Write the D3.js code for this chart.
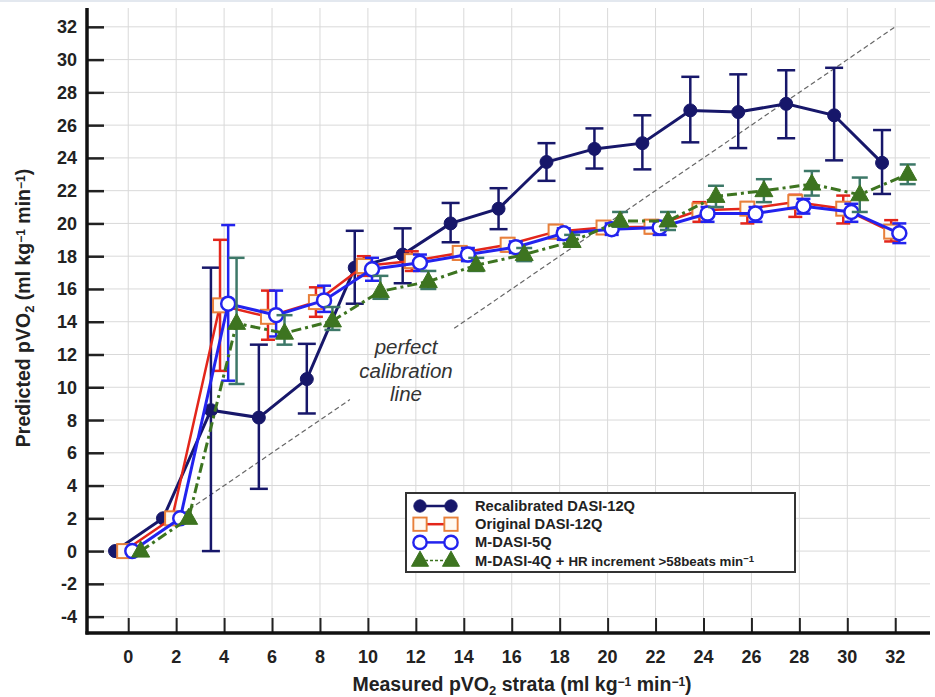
<!DOCTYPE html>
<html>
<head>
<meta charset="utf-8">
<script src="https://cdn.jsdelivr.net/npm/d3@7"></script>
<style>
  body { margin: 0; background: #fff; }
  text { font-family: "Liberation Sans", Arial, sans-serif; }
  .tickLabel { font-size: 18px; font-weight: bold; fill: #222; }
</style>
</head>
<body>
<svg id="chart" width="935" height="697"></svg>
<script>
// Strata (measured pVO2) and tick labels
var strata = [0, 2, 4, 6, 8, 10, 12, 14, 16, 18, 20, 22, 24, 26, 28, 30, 32];
var xTicks = [0, 2, 4, 6, 8, 10, 12, 14, 16, 18, 20, 22, 24, 26, 28, 30, 32];
var yTicks = [-4, -2, 0, 2, 4, 6, 8, 10, 12, 14, 16, 18, 20, 22, 24, 26, 28, 30, 32];

// Recalibrated DASI-12Q
var recalMean = [0, 2.0, 8.6, 8.15, 10.5, 17.3, 18.1, 20.0, 20.9, 23.75, 24.55, 24.9, 26.9, 26.8, 27.3, 26.6, 23.7];
var recalHi   = [0, 2.1, 17.3, 12.6, 12.65, 19.55, 19.7, 21.25, 22.15, 24.9, 25.8, 26.6, 28.95, 29.1, 29.35, 29.5, 25.7];
var recalLo   = [0, 1.9, 0, 3.8, 8.4, 15.1, 16.35, 18.85, 19.65, 22.6, 23.35, 23.3, 24.95, 24.6, 25.2, 23.85, 21.8];

// Original DASI-12Q
var origMean = [0, 2.0, 15.0, 14.3, 15.2, 17.4, 17.7, 18.2, 18.7, 19.5, 19.75, 19.8, 20.8, 20.9, 21.3, 20.9, 19.5];
var origHi   = [0, 2.1, 19.0, 15.9, 16.1, 18.0, 18.3, 18.6, 19.1, 19.9, 20.1, 20.2, 21.3, 21.3, 21.75, 21.7, 20.2];
var origLo   = [0, 1.9, 11.0, 12.9, 14.3, 16.8, 17.1, 17.8, 18.3, 19.1, 19.4, 19.4, 20.1, 20.0, 20.4, 20.0, 18.9];

// M-DASI-5Q
var mdasi5Mean = [0, 2.0, 15.1, 14.4, 15.3, 17.2, 17.6, 18.1, 18.55, 19.4, 19.65, 19.75, 20.6, 20.6, 21.05, 20.7, 19.4];
var mdasi5Hi   = [0, 2.1, 19.9, 15.9, 16.2, 17.9, 18.1, 18.5, 18.9, 19.7, 20.0, 20.1, 21.0, 21.0, 21.5, 21.2, 20.0];
var mdasi5Lo   = [0, 1.9, 10.4, 13.1, 14.6, 16.5, 17.1, 17.7, 18.2, 19.0, 19.3, 19.3, 20.1, 20.1, 20.6, 20.1, 18.8];

// M-DASI-4Q + HR increment
var mdasi4Mean = [0, 2.0, 13.9, 13.3, 14.05, 15.85, 16.45, 17.45, 18.1, 18.9, 20.15, 20.15, 21.65, 22.0, 22.4, 21.75, 23.0];
var mdasi4Hi   = [0, 2.1, 17.9, 14.4, 14.9, 16.8, 17.1, 17.9, 18.5, 19.3, 20.7, 20.7, 22.3, 22.7, 23.2, 22.8, 23.6];
var mdasi4Lo   = [0, 1.9, 10.2, 12.6, 13.5, 15.4, 16.0, 17.1, 17.7, 18.6, 19.8, 19.6, 21.0, 21.3, 21.7, 20.7, 22.4];

// Perfect calibration line pieces (gap for the label)
var calibSegments = [[2, 9.25], [13.6, 32]];

// Colors
var navy = "#17176a";
var red = "#e3261b";
var orange = "#e8803a";
var blue = "#2323ee";
var green = "#3d7420";
var teal = "#3d7868";
var gridColor = "#d9d9d9";

var svg = d3.select("#chart");

// Scales
var xScale = d3.scaleLinear().domain([-1.72, 33.45]).range([87, 930]);
var yScale = d3.scaleLinear().domain([-5, 33.15]).range([633, 8]);

// faint top border
svg.append("line")
   .attr("x1", 0).attr("x2", 935).attr("y1", 1).attr("y2", 1)
   .style("stroke", "#e3e8ef").style("stroke-width", 2);

// Grid
svg.selectAll(".vgrid")
   .data(xTicks)
   .enter()
   .append("line")
   .attr("class", "vgrid")
   .attr("x1", function(d) { return xScale(d); })
   .attr("x2", function(d) { return xScale(d); })
   .attr("y1", yScale(33.15))
   .attr("y2", yScale(-5))
   .style("stroke", gridColor).style("stroke-width", 1);
svg.selectAll(".hgrid")
   .data(yTicks)
   .enter()
   .append("line")
   .attr("class", "hgrid")
   .attr("x1", xScale(-1.72))
   .attr("x2", xScale(33.45))
   .attr("y1", function(d) { return yScale(d); })
   .attr("y2", function(d) { return yScale(d); })
   .style("stroke", gridColor).style("stroke-width", 1);

// Axes (ticks drawn inward)
var yAxis = d3.axisRight(yScale).tickValues(yTicks).tickSize(17).tickFormat("");
var yG = svg.append("g").attr("transform", "translate(" + xScale(-1.72) + ",0)").call(yAxis);
yG.select(".domain").remove();
yG.selectAll(".tick line").style("stroke", "#222").style("stroke-width", 2.5);

var xAxis = d3.axisTop(xScale).tickValues(xTicks).tickSize(15).tickFormat("");
var xG = svg.append("g").attr("transform", "translate(0," + yScale(-5) + ")").call(xAxis);
xG.select(".domain").remove();
xG.selectAll(".tick line").style("stroke", "#222").style("stroke-width", 2);

// axis lines
svg.append("line")
   .attr("x1", xScale(-1.72)).attr("x2", xScale(-1.72))
   .attr("y1", yScale(33.15)).attr("y2", yScale(-5) + 1.5)
   .style("stroke", "#111").style("stroke-width", 3.5);
svg.append("line")
   .attr("x1", xScale(-1.72) - 1.5).attr("x2", xScale(33.45))
   .attr("y1", yScale(-5)).attr("y2", yScale(-5))
   .style("stroke", "#111").style("stroke-width", 3.5);

// Tick labels
svg.selectAll(".ylab")
   .data(yTicks)
   .enter()
   .append("text")
   .attr("class", "tickLabel")
   .attr("x", xScale(-1.72) - 10)
   .attr("y", function(d) { return yScale(d) + 6.5; })
   .attr("text-anchor", "end")
   .text(function(d) { return d; });
svg.selectAll(".xlab")
   .data(xTicks)
   .enter()
   .append("text")
   .attr("class", "tickLabel")
   .attr("x", function(d) { return xScale(d); })
   .attr("y", yScale(-5) + 30)
   .attr("text-anchor", "middle")
   .text(function(d) { return d; });

// Axis titles
var xTitle = svg.append("text")
   .attr("x", 522).attr("y", 691)
   .attr("text-anchor", "middle")
   .style("font-size", "19.5px").style("font-weight", "bold").style("fill", "#222");
xTitle.append("tspan").text("Measured pVO");
xTitle.append("tspan").attr("baseline-shift", "-30%").style("font-size", "13px").text("2");
xTitle.append("tspan").text(" strata (ml kg");
xTitle.append("tspan").attr("baseline-shift", "40%").style("font-size", "12px").text("\u22121");
xTitle.append("tspan").text(" min");
xTitle.append("tspan").attr("baseline-shift", "40%").style("font-size", "12px").text("\u22121");
xTitle.append("tspan").text(")");

var yTitle = svg.append("text")
   .attr("transform", "translate(30,308) rotate(-90)")
   .attr("text-anchor", "middle")
   .style("font-size", "19.5px").style("font-weight", "bold").style("fill", "#222");
yTitle.append("tspan").text("Predicted pVO");
yTitle.append("tspan").attr("baseline-shift", "-30%").style("font-size", "13px").text("2");
yTitle.append("tspan").text(" (ml kg");
yTitle.append("tspan").attr("baseline-shift", "40%").style("font-size", "12px").text("\u22121");
yTitle.append("tspan").text(" min");
yTitle.append("tspan").attr("baseline-shift", "40%").style("font-size", "12px").text("\u22121");
yTitle.append("tspan").text(")");

// Perfect calibration line
svg.selectAll(".calib")
   .data(calibSegments)
   .enter()
   .append("line")
   .attr("class", "calib")
   .attr("x1", function(d) { return xScale(d[0]); })
   .attr("y1", function(d) { return yScale(d[0]); })
   .attr("x2", function(d) { return xScale(d[1]); })
   .attr("y2", function(d) { return yScale(d[1]); })
   .style("stroke", "#666").style("stroke-width", 1.2)
   .style("stroke-dasharray", "5,3");
var calibText = ["perfect", "calibration", "line"];
svg.selectAll(".calibText")
   .data(calibText)
   .enter()
   .append("text")
   .attr("x", 406)
   .attr("y", function(d, i) { return 354 + i * 23.5; })
   .attr("text-anchor", "middle")
   .style("font-size", "20.5px").style("font-style", "italic").style("fill", "#333")
   .text(function(d) { return d; });

// Series
var series = [
  { name: "recal", mean: recalMean, hi: recalHi, lo: recalLo, off: -0.55, line: navy, err: navy, width: 3, dash: null, cap: 18 },
  { name: "orig", mean: origMean, hi: origHi, lo: origLo, off: -0.17, line: red, err: red, width: 2.5, dash: null, cap: 14 },
  { name: "mdasi5", mean: mdasi5Mean, hi: mdasi5Hi, lo: mdasi5Lo, off: 0.17, line: blue, err: blue, width: 3, dash: null, cap: 14 },
  { name: "mdasi4", mean: mdasi4Mean, hi: mdasi4Hi, lo: mdasi4Lo, off: 0.52, line: green, err: teal, width: 3, dash: "10,4,3,4", cap: 16 }
];

var lineGen = d3.line()
  .x(function(d) { return xScale(d.x); })
  .y(function(d) { return yScale(d.y); });

series.forEach(function(s) {
  var pts = strata.map(function(x, i) {
    return { x: x + s.off, y: s.mean[i], hi: s.hi[i], lo: s.lo[i] };
  });
  var g = svg.append("g").attr("class", "series-" + s.name);

  // error bars
  var eb = g.selectAll(".err").data(pts.filter(function(d) { return d.hi - d.lo > 0.3; }))
            .enter().append("g").style("stroke", s.err).style("stroke-width", 2.5);
  eb.append("line")
    .attr("x1", function(d) { return xScale(d.x); })
    .attr("x2", function(d) { return xScale(d.x); })
    .attr("y1", function(d) { return yScale(d.hi); })
    .attr("y2", function(d) { return yScale(d.lo); });
  eb.append("line")
    .attr("x1", function(d) { return xScale(d.x) - s.cap / 2; })
    .attr("x2", function(d) { return xScale(d.x) + s.cap / 2; })
    .attr("y1", function(d) { return yScale(d.hi); })
    .attr("y2", function(d) { return yScale(d.hi); });
  eb.append("line")
    .attr("x1", function(d) { return xScale(d.x) - s.cap / 2; })
    .attr("x2", function(d) { return xScale(d.x) + s.cap / 2; })
    .attr("y1", function(d) { return yScale(d.lo); })
    .attr("y2", function(d) { return yScale(d.lo); });

  g.append("path")
   .datum(pts)
   .attr("d", lineGen)
   .style("fill", "none")
   .style("stroke", s.line)
   .style("stroke-width", s.width)
   .style("stroke-dasharray", s.dash);

  s.pts = pts;
  s.g = g;
});

// Markers
function drawMarker(sel, kind) {
  if (kind == "recal") {
    sel.append("circle").attr("r", 6.5).style("fill", navy).style("stroke", navy).style("stroke-width", 1);
  } else if (kind == "orig") {
    sel.append("rect").attr("x", -7).attr("y", -7).attr("width", 14).attr("height", 14)
       .style("fill", "#fffaf2").style("stroke", orange).style("stroke-width", 2);
  } else if (kind == "mdasi5") {
    sel.append("circle").attr("r", 7).style("fill", "#fff").style("stroke", blue).style("stroke-width", 2.5);
  } else {
    sel.append("path").attr("d", "M0,-10L9,6L-9,6Z").style("fill", green).style("stroke", green).style("stroke-width", 1);
  }
}
series.forEach(function(s) {
  var m = s.g.selectAll(".marker").data(s.pts).enter().append("g")
             .attr("transform", function(d) { return "translate(" + xScale(d.x) + "," + yScale(d.y) + ")"; });
  drawMarker(m, s.name);
});

// Legend
var legend = svg.append("g").attr("transform", "translate(406,493)");
legend.append("rect").attr("width", 389).attr("height", 79)
      .style("fill", "#fff").style("stroke", "#333").style("stroke-width", 2);
var legendItems = [
  { kind: "recal", line: navy, dash: null },
  { kind: "orig", line: red, dash: null },
  { kind: "mdasi5", line: blue, dash: null },
  { kind: "mdasi4", line: green, dash: "3,2" }
];
legendItems.forEach(function(d, i) {
  var ly = 13 + i * 18.2;
  legend.append("line").attr("x1", 14).attr("x2", 45).attr("y1", ly).attr("y2", ly)
        .style("stroke", d.line).style("stroke-width", d.kind == "mdasi4" ? 1.5 : 2.5)
        .style("stroke-dasharray", d.dash);
  [14, 45].forEach(function(mx) {
    var mg = legend.append("g").attr("transform", "translate(" + mx + "," + ly + ") scale(0.95)");
    drawMarker(mg, d.kind);
  });
});
var legendLabels = ["Recalibrated DASI-12Q", "Original DASI-12Q", "M-DASI-5Q"];
legend.selectAll(".legText")
      .data(legendLabels)
      .enter()
      .append("text")
      .attr("x", 69)
      .attr("y", function(d, i) { return 18 + i * 18.2; })
      .style("font-size", "14.7px").style("font-weight", "bold").style("fill", "#222")
      .text(function(d) { return d; });
var lastLeg = legend.append("text")
      .attr("x", 69).attr("y", 18 + 3 * 18.2)
      .style("font-size", "14.7px").style("font-weight", "bold").style("fill", "#222");
lastLeg.append("tspan").text("M-DASI-4Q + ");
lastLeg.append("tspan").style("font-size", "13.3px").text("HR increment >58beats min");
lastLeg.append("tspan").attr("baseline-shift", "40%").style("font-size", "9.5px").text("\u22121");
</script>
</body>
</html>
